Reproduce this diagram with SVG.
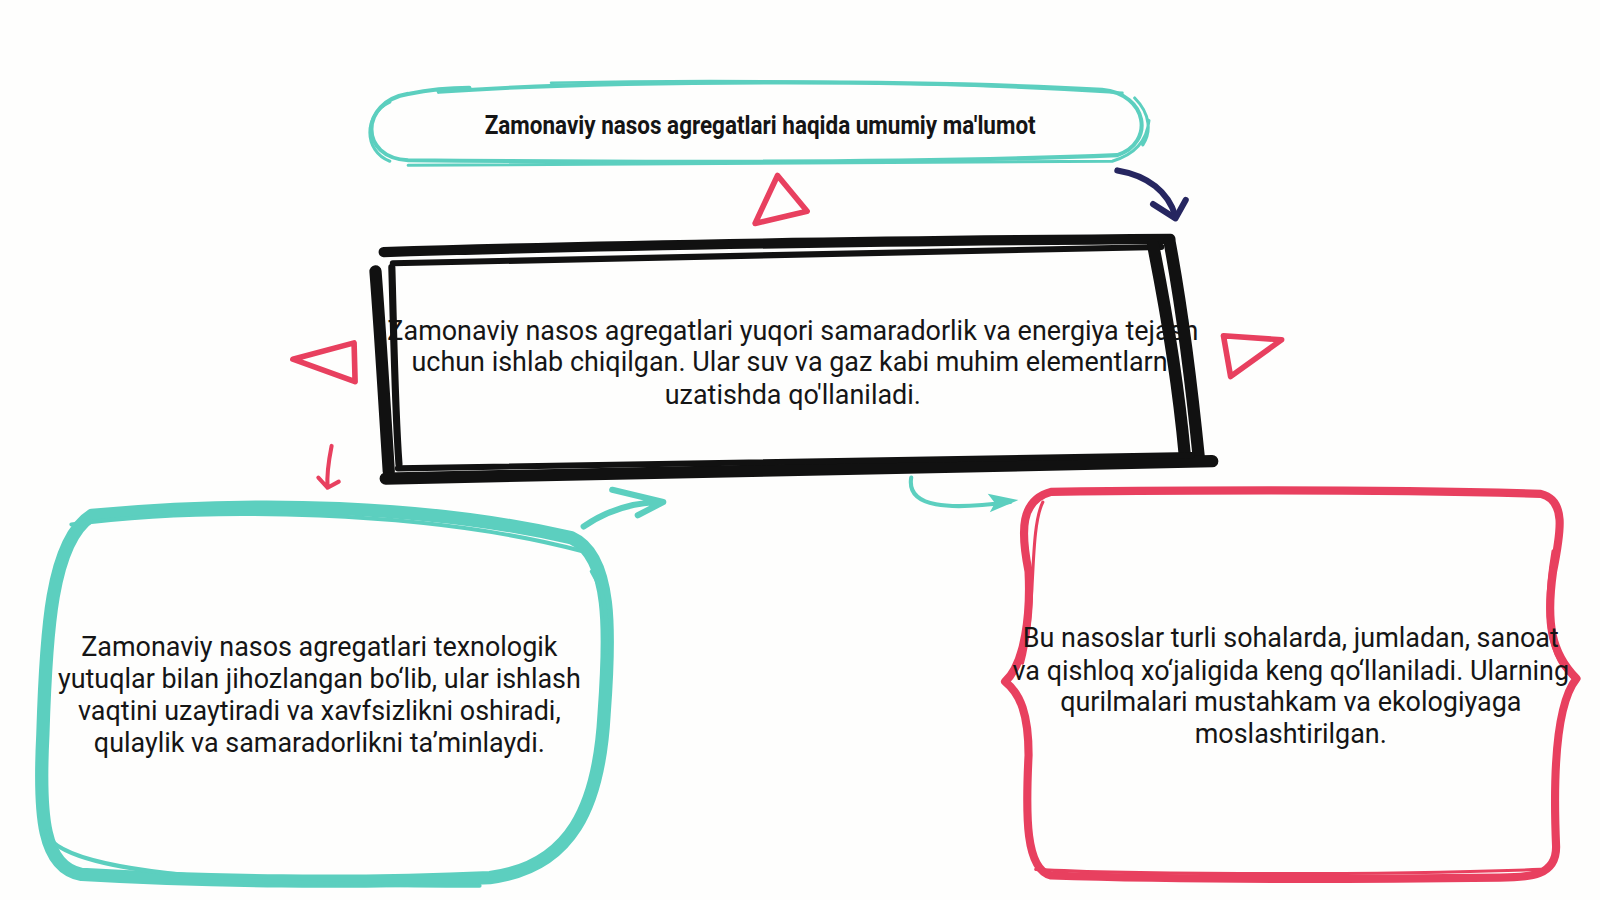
<svg xmlns="http://www.w3.org/2000/svg" width="1600" height="900" viewBox="0 0 1600 900">
<defs>
<style>
.body{font-family:Roboto,"Liberation Sans",sans-serif;font-size:26.4px;fill:#151515;text-anchor:middle}
.title{font-family:Roboto,"Liberation Sans",sans-serif;font-weight:bold;font-size:25px;fill:#151515;text-anchor:middle}
.teal{fill:none;stroke:#5ccfbf;stroke-linecap:round;stroke-linejoin:round}
.red{fill:none;stroke:#e8405f;stroke-linecap:round;stroke-linejoin:round}
.blk{fill:none;stroke:#111;stroke-linecap:round;stroke-linejoin:round}
</style>
</defs>
<rect width="1600" height="900" fill="#fefefd"/>
<g transform="scale(1.0204)">

<g id="title-node">
<path class="teal" stroke-width="4" d="M430,90 C600,78 900,78 1080,88 C1125,92 1132,140 1095,152 C900,160 600,159 400,157 C352,155 352,100 400,92 C420,88 440,86 460,86"/>
<path class="teal" stroke-width="3" d="M400,162 C650,159 900,161 1090,158 C1110,152 1124,140 1126,118 M1112,96 C1128,112 1128,130 1120,142 M382,100 C356,112 356,148 382,158"/>
<path class="teal" stroke-width="2.5" d="M540,81 C700,78 900,79 1100,91"/>
<text class="title" x="745" y="131" textLength="540" lengthAdjust="spacingAndGlyphs">Zamonaviy nasos agregatlari haqida umumiy ma'lumot</text>
</g>

<g id="main-node">
<text class="body" x="777" y="333">Zamonaviy nasos agregatlari yuqori samaradorlik va energiya tejash</text>
<text class="body" x="777" y="364">uchun ishlab chiqilgan. Ular suv va gaz kabi muhim elementlarni</text>
<text class="body" x="777" y="396">uzatishda qo'llaniladi.</text>
<path class="blk" stroke-width="10" d="M376,247 C600,240 900,236 1147,234"/>
<path class="blk" stroke-width="6" d="M385,258 C700,250 950,246 1138,242"/>
<path class="blk" stroke-width="12" d="M368,266 C373,330 377,400 381,462"/>
<path class="blk" stroke-width="7" d="M384,262 C386,330 387,400 391,455"/>
<path class="blk" stroke-width="12" d="M1130,240 C1142,300 1155,380 1161,445"/>
<path class="blk" stroke-width="12" d="M1146,236 C1158,300 1168,380 1175,450"/>
<path class="blk" stroke-width="12" d="M378,469 C700,461 950,455 1188,452"/>
<path class="blk" stroke-width="6" d="M390,459 C700,454 950,450 1168,446"/>
</g>

<g id="left-node">
<path class="teal" stroke-width="13" d="M90,505 C250,490 420,495 560,527 C600,545 598,620 592,700 C587,790 560,850 480,860 C350,866 200,864 80,857 C42,850 38,800 42,720 C45,620 50,530 90,505 Z"/>
<path class="teal" stroke-width="4" d="M70,514 C200,496 420,500 570,540 M45,815 C55,852 200,868 470,868 M580,560 C592,580 596,600 594,640"/>
<text class="body" x="313" y="643">Zamonaviy nasos agregatlari texnologik</text>
<text class="body" x="313" y="674">yutuqlar bilan jihozlangan bo‘lib, ular ishlash</text>
<text class="body" x="313" y="706">vaqtini uzaytiradi va xavfsizlikni oshiradi,</text>
<text class="body" x="313" y="737">qulaylik va samaradorlikni ta’minlaydi.</text>
</g>

<g id="right-node">
<path class="red" stroke-width="8" d="M1030,482 C1200,480 1380,480 1510,484 C1535,490 1530,520 1522,560 C1515,610 1520,640 1545,665 C1525,690 1522,760 1525,830 C1525,858 1500,860 1470,860 C1300,862 1150,862 1030,858 C1005,852 1005,800 1008,740 C1008,700 1000,680 985,668 C1005,650 1010,600 1008,560 C1000,520 1000,490 1030,482 Z"/>
<path class="red" stroke-width="3" d="M1022,492 C1008,520 1016,600 1002,650 M1522,540 C1512,600 1517,640 1537,660 M1015,852 C1100,857 1350,858 1510,852"/>
<text class="body" x="1265" y="634">Bu nasoslar turli sohalarda, jumladan, sanoat</text>
<text class="body" x="1265" y="666">va qishloq xo‘jaligida keng qo‘llaniladi. Ularning</text>
<text class="body" x="1265" y="697">qurilmalari mustahkam va ekologiyaga</text>
<text class="body" x="1265" y="728">moslashtirilgan.</text>
</g>

<g id="connectors">
<path class="red" stroke-width="5.5" d="M740,219 L762,172 L791,207 Z"/>
<path class="red" stroke-width="5.5" d="M287,352 L347,336 L348,374 Z"/>
<path class="red" stroke-width="5.5" d="M1199,329 L1256,333 L1206,369 Z"/>
<path fill="none" stroke="#262660" stroke-width="6" stroke-linecap="round" d="M1095,167 C1125,172 1145,188 1152,212"/>
<path fill="none" stroke="#262660" stroke-width="6" stroke-linecap="round" stroke-linejoin="round" d="M1130,200 L1152,214 L1162,196"/>
<path class="red" stroke-width="4" d="M325,437 C322,452 320,465 321,478 M312,468 L321,478 L332,472"/>
<path class="teal" stroke-width="6" d="M572,516 C595,500 620,492 650,492 M600,480 L650,492 L625,505"/>
<path class="teal" stroke-width="4" d="M893,468 C888,498 930,500 990,492"/>
<path fill="#5ccfbf" d="M968,484 L998,490 L970,502 L975,493 Z"/>
</g>
</g>
</svg>
